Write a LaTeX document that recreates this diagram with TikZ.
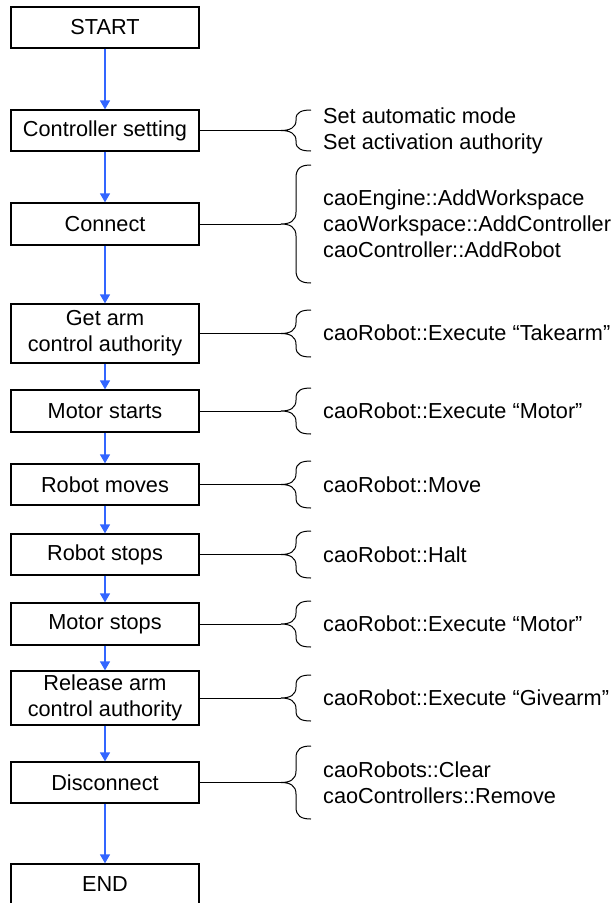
\documentclass[tikz,border=0pt]{standalone}
\usepackage{fontspec}
\setmainfont{Liberation Sans}
\usepackage{tikz}
\usetikzlibrary{arrows.meta,positioning}
\definecolor{flowblue}{RGB}{51, 102, 255}

\begin{document}
\begin{tikzpicture}[x=1pt, y=-1pt, >={Triangle[length=9pt,width=10pt]},
    flowbox/.style={draw, line width=1.3pt, minimum width=188pt, minimum height=41pt, inner sep=0pt, align=center, font=\fontsize{21.7}{25.8}\selectfont},
    callnote/.style={anchor=west, inner sep=0pt, align=left, font=\fontsize{21.7}{25.8}\selectfont},
    flowarrow/.style={->, line width=1.3pt, color=flowblue},
    calllink/.style={line width=1pt},
    callbrace/.style={line width=1pt, line join=round}]
        \useasboundingbox (0,0) rectangle (614,903);

        % Flow steps
        \node[flowbox] (start) at (105, 27.5) {START};
        \node[flowbox] (ctrl) at (105, 130.5) {Controller setting};
        \node[flowbox, minimum height=42pt] (connect) at (105, 224) {Connect};
        \node[flowbox, minimum height=59pt] (takearm) at (105, 333.5) {Get arm\\control authority};
        \node[flowbox, minimum height=42pt] (motoron) at (105, 411) {Motor starts};
        \node[flowbox] (move) at (105, 484.5) {Robot moves};
        \node[flowbox] (halt) at (105, 554.5) {Robot stops};
        \node[flowbox, minimum height=42pt] (motoroff) at (105, 624) {Motor stops};
        \node[flowbox, minimum height=54pt] (givearm) at (105, 698) {Release arm\\control authority};
        \node[flowbox] (disconnect) at (105, 782.5) {Disconnect};
        \node[flowbox] (finish) at (105, 884.5) {END};

        % Flow arrows
        \draw[flowarrow] (start.south) -- (ctrl.north);
        \draw[flowarrow] (ctrl.south) -- (connect.north);
        \draw[flowarrow] (connect.south) -- (takearm.north);
        \draw[flowarrow] (takearm.south) -- (motoron.north);
        \draw[flowarrow] (motoron.south) -- (move.north);
        \draw[flowarrow] (move.south) -- (halt.north);
        \draw[flowarrow] (halt.south) -- (motoroff.north);
        \draw[flowarrow] (motoroff.south) -- (givearm.north);
        \draw[flowarrow] (givearm.south) -- (disconnect.north);
        \draw[flowarrow] (disconnect.south) -- (finish.north);

        % Brace tips
        \coordinate (ctrltip) at (281, 130.5);
        \coordinate (connecttip) at (281, 224);
        \coordinate (takearmtip) at (281, 333.5);
        \coordinate (motorontip) at (281, 411);
        \coordinate (movetip) at (281, 484.5);
        \coordinate (halttip) at (281, 554.5);
        \coordinate (motorofftip) at (281, 624);
        \coordinate (givearmtip) at (281, 698);
        \coordinate (disconnecttip) at (281, 782.5);

        % Links from the steps to the braces
        \draw[calllink] (ctrl.east) -- (ctrltip);
        \draw[calllink] (connect.east) -- (connecttip);
        \draw[calllink] (takearm.east) -- (takearmtip);
        \draw[calllink] (motoron.east) -- (motorontip);
        \draw[calllink] (move.east) -- (movetip);
        \draw[calllink] (halt.east) -- (halttip);
        \draw[calllink] (motoroff.east) -- (motorofftip);
        \draw[calllink] (givearm.east) -- (givearmtip);
        \draw[calllink] (disconnect.east) -- (disconnecttip);

        % Braces
        \draw[callbrace] (311,110) .. controls (302,110) and (296,112) .. (296,119) -- (296,120.5) .. controls (296,127.5) and (290,130.5) .. (ctrltip) .. controls (290,130.5) and (296,133.5) .. (296,140.5) -- (296,142) .. controls (296,149) and (302,151) .. (311,151);
        \draw[callbrace] (311,165) .. controls (301,165) and (296,168) .. (296,178) -- (296,212) .. controls (296,221) and (290,224) .. (connecttip) .. controls (290,224) and (296,227) .. (296,236) -- (296,270) .. controls (296,280) and (301,283) .. (311,283);
        \draw[callbrace] (311,310) .. controls (302,310) and (296,312) .. (296,320) -- (296,322.5) .. controls (296,330.5) and (290,333.5) .. (takearmtip) .. controls (290,333.5) and (296,336.5) .. (296,344.5) -- (296,347) .. controls (296,355) and (302,357) .. (311,357);
        \draw[callbrace] (311,388) .. controls (302,388) and (296,390) .. (296,398) -- (296,400) .. controls (296,408) and (290,411) .. (motorontip) .. controls (290,411) and (296,414) .. (296,422) -- (296,424) .. controls (296,432) and (302,434) .. (311,434);
        \draw[callbrace] (311,461) .. controls (302,461) and (296,463) .. (296,471) -- (296,473.5) .. controls (296,481.5) and (290,484.5) .. (movetip) .. controls (290,484.5) and (296,487.5) .. (296,495.5) -- (296,498) .. controls (296,506) and (302,508) .. (311,508);
        \draw[callbrace] (311,531) .. controls (302,531) and (296,533) .. (296,541) -- (296,543.5) .. controls (296,551.5) and (290,554.5) .. (halttip) .. controls (290,554.5) and (296,557.5) .. (296,565.5) -- (296,568) .. controls (296,576) and (302,578) .. (311,578);
        \draw[callbrace] (311,601) .. controls (302,601) and (296,603) .. (296,611) -- (296,613) .. controls (296,621) and (290,624) .. (motorofftip) .. controls (290,624) and (296,627) .. (296,635) -- (296,637) .. controls (296,645) and (302,647) .. (311,647);
        \draw[callbrace] (311,675) .. controls (302,675) and (296,677) .. (296,685) -- (296,687) .. controls (296,695) and (290,698) .. (givearmtip) .. controls (290,698) and (296,701) .. (296,709) -- (296,711) .. controls (296,719) and (302,721) .. (311,721);
        \draw[callbrace] (311,746) .. controls (301,746) and (296,749) .. (296,758) -- (296,771) .. controls (296,779.5) and (290,782.5) .. (disconnecttip) .. controls (290,782.5) and (296,785.5) .. (296,794) -- (296,807) .. controls (296,816) and (301,819) .. (311,819);

        % API calls
        \node[callnote] (ctrlcalls) at (323, 131) {Set automatic mode\\Set activation authority};
        \node[callnote] (connectcalls) at (323, 224) {caoEngine::AddWorkspace\\caoWorkspace::AddController\\caoController::AddRobot};
        \node[callnote] (takearmcalls) at (323, 333) {caoRobot::Execute “Takearm”};
        \node[callnote] (motoroncalls) at (323, 411) {caoRobot::Execute “Motor”};
        \node[callnote] (movecalls) at (323, 484.5) {caoRobot::Move};
        \node[callnote] (haltcalls) at (323, 554.5) {caoRobot::Halt};
        \node[callnote] (motoroffcalls) at (323, 624) {caoRobot::Execute “Motor”};
        \node[callnote] (givearmcalls) at (323, 698) {caoRobot::Execute “Givearm”};
        \node[callnote] (disconnectcalls) at (323, 782.5) {caoRobots::Clear\\caoControllers::Remove};
\end{tikzpicture}
\end{document}
